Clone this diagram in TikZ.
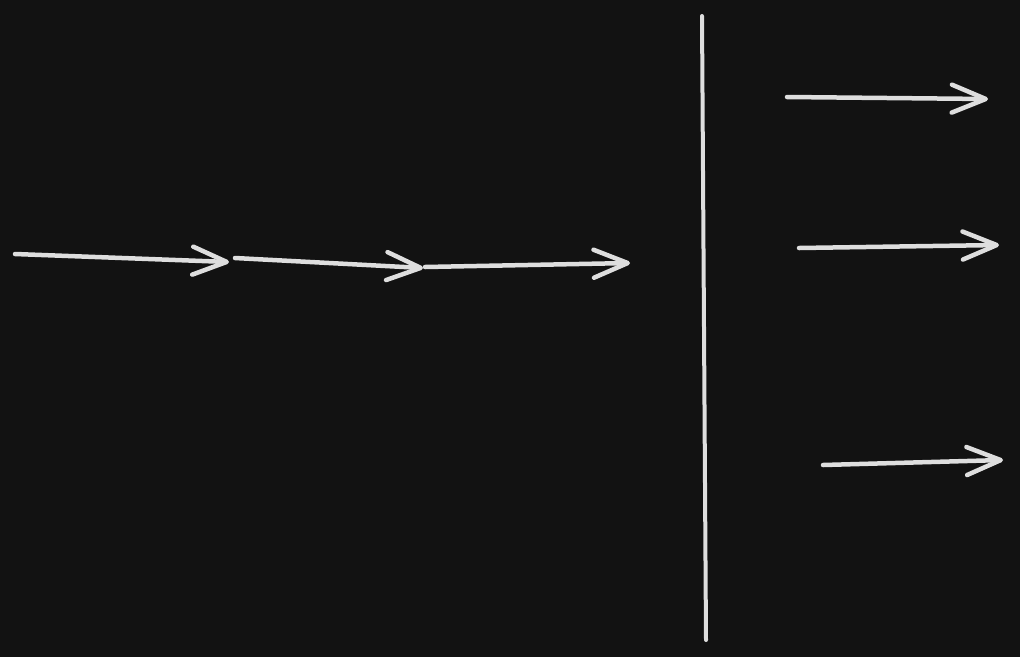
\documentclass[tikz,border=0pt]{standalone}
\usetikzlibrary{arrows.meta}
\definecolor{bg}{HTML}{121212}
\definecolor{ink}{HTML}{DEDEDE}
\begin{document}
\begin{tikzpicture}[x=1pt,y=-1pt,
  arr/.style={draw=ink,line width=4.5pt,line cap=round,-{Straight Barb[length=34pt,width=28pt,line width=4.5pt,round]}},
  wall/.style={draw=ink,line width=4pt,line cap=round}]
\fill[bg] (0,0) rectangle (1020,657);
\useasboundingbox (0,0) rectangle (1020,657);
\coordinate (a0) at (15,254);
\coordinate (a1) at (229,262);
\coordinate (a2) at (235,258);
\coordinate (a3) at (423,268);
\coordinate (a4) at (425,267);
\coordinate (a5) at (630,263);
\coordinate (w0) at (702,16);
\coordinate (w1) at (706,640);
\coordinate (r1s) at (787,97);
\coordinate (r1e) at (988,99);
\coordinate (r2s) at (799,248);
\coordinate (r2e) at (999,245);
\coordinate (r3s) at (823,465);
\coordinate (r3e) at (1003,460);
\draw[arr] (a0) -- (a1);
\draw[arr] (a2) -- (a3);
\draw[arr] (a4) -- (a5);
\draw[wall] (w0) -- (w1);
\draw[arr] (r1s) -- (r1e);
\draw[arr] (r2s) -- (r2e);
\draw[arr] (r3s) -- (r3e);
\end{tikzpicture}
\end{document}
